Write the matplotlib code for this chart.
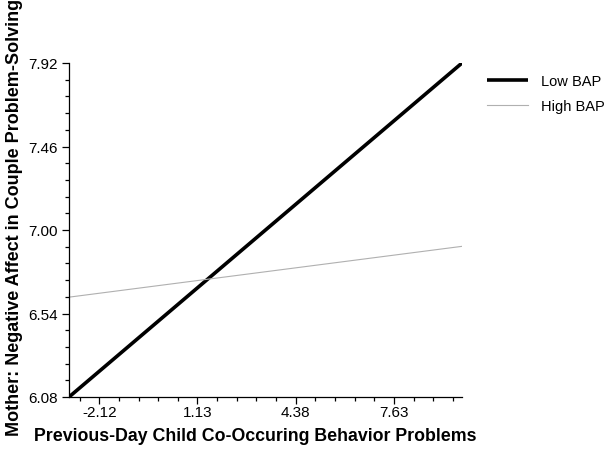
import matplotlib
matplotlib.use("Agg")
from matplotlib import pyplot as plt
from matplotlib.ticker import MultipleLocator, FixedLocator

plt.rcParams['font.family'] = ['Liberation Sans', 'DejaVu Sans']

# Data: simple slopes at the ends of the x range
x_ends = [-3.12, 9.88]
low_bap = [6.08, 7.92]
high_bap = [6.63, 6.91]
x_ticks = [-2.12, 1.13, 4.38, 7.63]
y_ticks = [6.08, 6.54, 7.00, 7.46, 7.92]

fig = plt.figure(figsize=(6.06, 4.52), dpi=100)
ax = fig.add_axes([69 / 606, 1 - 398 / 452, (462 - 69) / 606, (398 - 64) / 452])

ax.plot(x_ends, low_bap, color="black", linewidth=2.6, label="Low BAP", solid_capstyle="butt")
ax.plot(x_ends, high_bap, color="#b0b0b0", linewidth=0.8, label="High BAP")

ax.set_xlim(x_ends[0], x_ends[1])
ax.set_ylim(y_ticks[0], y_ticks[-1])

ax.xaxis.set_major_locator(FixedLocator(x_ticks))
ax.xaxis.set_minor_locator(MultipleLocator(0.65, offset=-2.12))
ax.yaxis.set_major_locator(FixedLocator(y_ticks))
ax.yaxis.set_minor_locator(MultipleLocator(0.092, offset=6.08))
ax.set_yticklabels([f"{v:.2f}" for v in y_ticks])
ax.set_xticklabels([f"{v:.2f}" for v in x_ticks])

for side in ("top", "right"):
    ax.spines[side].set_visible(False)
for side in ("left", "bottom"):
    ax.spines[side].set_linewidth(0.9)

ax.tick_params(which="major", direction="out", length=5, width=0.9, labelsize=11, colors="black", pad=3)
ax.tick_params(which="minor", direction="out", length=3, width=0.9)
ax.tick_params(axis="x", which="major", pad=0.5)

ax.set_xlabel("Previous-Day Child Co-Occuring Behavior Problems", fontsize=12.8, fontweight="bold")
ax.xaxis.set_label_coords(0.473, -0.09)
ax.set_ylabel("Mother: Negative Affect in Couple Problem-Solving", fontsize=13, fontweight="bold")
ax.yaxis.set_label_coords(-0.117, 0.54)

ax.legend(loc="upper left", bbox_to_anchor=(1.03, 1.005), frameon=False, fontsize=10.5,
          handlelength=2.8, handletextpad=0.9, labelspacing=0.75)

fig.savefig("out.png", dpi=100)
